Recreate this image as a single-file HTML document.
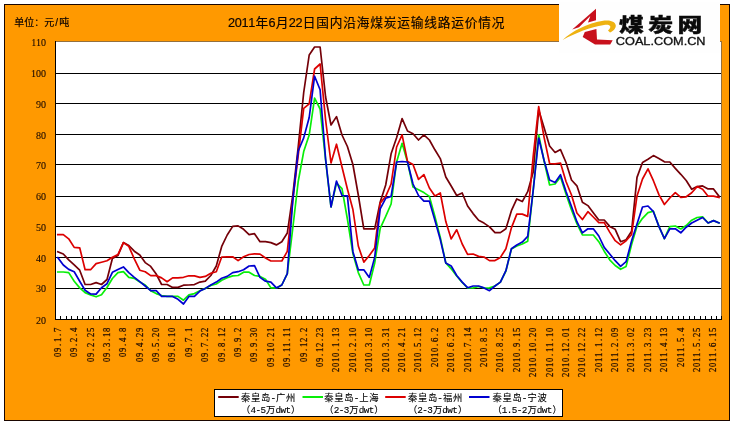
<!DOCTYPE html>
<html lang="zh-CN"><head><meta charset="utf-8"><title>2011年6月22日国内沿海煤炭运输线路运价情况</title>
<style>
html,body{margin:0;padding:0;background:#fff;}
body{width:735px;height:425px;overflow:hidden;position:relative;}
svg{position:absolute;left:0;top:0;display:block;}
text{font-family:"Liberation Sans","Noto Sans CJK SC",sans-serif;fill:#1a0a00;}
.cj{font-family:"Liberation Sans","Noto Sans CJK SC",sans-serif;fill:#0c0400;stroke:#0c0400;stroke-width:0.18;}
.mono{font-family:"Liberation Mono","Noto Sans CJK SC",monospace;}
.lg{fill:#000;stroke:#000;stroke-width:0.12;}
.ser3{font-family:"Liberation Serif","Noto Serif CJK SC",serif;stroke:#1a0a00;stroke-width:0.1;}
.ser2{font-family:"Liberation Serif","Noto Serif CJK SC",serif;fill:#1c0a00;stroke:#1c0a00;stroke-width:0.25;}
.ser{fill:none;stroke-width:1.7;stroke-linejoin:round;stroke-linecap:square;}
</style></head><body>
<svg width="735" height="425" viewBox="0 0 735 425">
<rect x="4.5" y="4.5" width="725" height="416" fill="#ff9900" stroke="#1a0600" stroke-width="1"/>
<rect x="55" y="41" width="667" height="279" fill="#ffffff"/>
<path d="M55 41.5H722M721.5 41V320" stroke="#94703e" stroke-width="1" fill="none"/>
<path d="M56 73.5H721M56 103.5H721M56 134.5H721M56 164.5H721M56 196.5H721M56 226.5H721M56 257.5H721M56 288.5H721" stroke="#000" stroke-width="1" fill="none" shape-rendering="crispEdges"/>
<polyline class="ser" stroke="#740008" points="57.8,251.8 63.3,254.0 68.7,259.8 74.2,264.9 79.7,270.2 85.1,284.5 90.6,284.5 96.1,282.6 101.5,284.5 107.0,279.5 112.4,258.5 117.9,255.6 123.4,242.6 128.8,245.5 134.3,251.2 139.8,255.0 145.2,262.6 150.7,266.4 156.2,274.0 161.6,284.5 167.1,284.5 172.6,287.4 178.0,287.4 183.5,285.2 188.9,285.0 194.4,284.6 199.9,282.1 205.3,281.2 210.8,275.5 216.3,266.0 221.7,246.4 227.2,235.0 232.7,226.4 238.1,225.9 243.6,229.3 249.1,234.6 254.5,233.7 260.0,241.7 265.5,241.7 270.9,242.6 276.4,244.9 281.8,241.7 287.3,233.0 292.8,195.0 298.2,147.0 303.7,92.5 309.2,55.0 314.6,47.0 320.1,47.0 325.6,97.0 331.0,125.0 336.5,116.6 342.0,135.0 347.4,146.5 352.9,164.5 358.3,195.0 363.8,228.8 369.3,228.8 374.7,228.8 380.2,202.0 385.7,185.0 391.1,153.8 396.6,137.8 402.1,118.6 407.5,131.0 413.0,133.8 418.5,140.0 423.9,134.8 429.4,140.0 434.9,149.8 440.3,158.6 445.8,177.0 451.2,186.0 456.7,195.5 462.2,193.0 467.6,206.0 473.1,213.6 478.6,220.2 484.0,223.1 489.5,226.9 495.0,232.6 500.4,232.6 505.9,228.8 511.4,210.7 516.8,198.9 522.3,201.6 527.7,191.7 533.2,172.0 538.7,110.0 544.1,127.7 549.6,146.0 555.1,152.5 560.5,149.6 566.0,162.5 571.5,180.0 576.9,185.8 582.4,202.2 587.9,205.6 593.3,212.8 598.8,220.0 604.2,220.0 609.7,226.4 615.2,229.3 620.6,241.7 626.1,239.8 631.6,231.2 637.0,177.4 642.5,162.5 648.0,159.2 653.4,155.6 658.9,158.6 664.4,161.8 669.8,162.0 675.3,168.4 680.8,174.3 686.2,180.5 691.7,189.3 697.1,186.6 702.6,185.9 708.1,188.9 713.5,188.9 719.0,196.2"/>
<polyline class="ser" stroke="#08ee08" points="57.8,272.0 63.3,272.0 68.7,272.6 74.2,281.2 79.7,287.9 85.1,292.6 90.6,294.9 96.1,296.8 101.5,294.7 107.0,287.5 112.4,278.5 117.9,272.6 123.4,271.7 128.8,277.4 134.3,278.3 139.8,282.1 145.2,285.0 150.7,290.7 156.2,293.6 161.6,295.5 167.1,296.4 172.6,296.4 178.0,296.4 183.5,300.2 188.9,294.9 194.4,293.6 199.9,290.7 205.3,288.4 210.8,285.4 216.3,284.0 221.7,280.2 227.2,277.8 232.7,275.9 238.1,275.5 243.6,272.2 249.1,272.2 254.5,275.5 260.0,276.4 265.5,279.3 270.9,287.9 276.4,287.9 281.8,285.0 287.3,273.6 292.8,228.0 298.2,181.5 303.7,151.6 309.2,135.0 314.6,98.2 320.1,109.0 325.6,160.0 331.0,207.0 336.5,183.0 342.0,188.6 347.4,219.0 352.9,253.6 358.3,272.6 363.8,285.0 369.3,285.0 374.7,263.0 380.2,228.3 385.7,216.4 391.1,204.0 396.6,162.0 402.1,143.3 407.5,162.0 413.0,187.0 418.5,189.8 423.9,192.6 429.4,196.4 434.9,216.4 440.3,237.4 445.8,263.0 451.2,268.8 456.7,276.0 462.2,282.5 467.6,288.0 473.1,287.9 478.6,286.5 484.0,288.0 489.5,287.9 495.0,286.0 500.4,282.1 505.9,271.0 511.4,249.0 516.8,246.0 522.3,244.0 527.7,241.2 533.2,190.0 538.7,134.8 544.1,161.0 549.6,185.0 555.1,184.0 560.5,177.0 566.0,194.0 571.5,210.0 576.9,223.6 582.4,235.0 587.9,235.0 593.3,235.0 598.8,241.7 604.2,251.2 609.7,259.8 615.2,265.5 620.6,269.3 626.1,266.4 631.6,244.5 637.0,226.3 642.5,218.3 648.0,212.6 653.4,211.2 658.9,226.4 664.4,238.7 669.8,226.6 675.3,226.0 680.8,229.0 686.2,225.5 691.7,220.2 697.1,217.5 702.6,216.8 708.1,223.0 713.5,220.6 719.0,223.0"/>
<polyline class="ser" stroke="#dc0000" points="57.8,234.6 63.3,234.6 68.7,238.8 74.2,247.4 79.7,247.8 85.1,269.7 90.6,269.7 96.1,263.6 101.5,262.2 107.0,260.7 112.4,257.3 117.9,254.6 123.4,242.6 128.8,246.4 134.3,258.8 139.8,270.2 145.2,271.8 150.7,275.6 156.2,275.6 161.6,277.9 167.1,281.7 172.6,277.9 178.0,277.9 183.5,277.3 188.9,275.8 194.4,275.9 199.9,277.4 205.3,276.4 210.8,273.2 216.3,271.7 221.7,257.0 227.2,256.8 232.7,256.8 238.1,260.6 243.6,256.8 249.1,254.5 254.5,253.8 260.0,254.1 265.5,258.0 270.9,261.0 276.4,261.0 281.8,261.0 287.3,251.4 292.8,200.0 298.2,155.3 303.7,108.3 309.2,103.8 314.6,69.0 320.1,64.0 325.6,120.0 331.0,163.0 336.5,144.2 342.0,167.0 347.4,189.0 352.9,209.5 358.3,246.0 363.8,262.1 369.3,255.5 374.7,247.9 380.2,203.1 385.7,196.4 391.1,184.0 396.6,147.0 402.1,134.8 407.5,161.4 413.0,164.5 418.5,179.4 423.9,174.6 429.4,188.0 434.9,195.9 440.3,193.0 445.8,221.6 451.2,238.9 456.7,229.8 462.2,244.0 467.6,254.3 473.1,254.0 478.6,256.4 484.0,257.0 489.5,260.6 495.0,260.6 500.4,257.4 505.9,248.8 511.4,227.9 516.8,214.1 522.3,214.1 527.7,216.4 533.2,156.4 538.7,106.6 544.1,137.3 549.6,163.5 555.1,163.9 560.5,163.0 566.0,181.5 571.5,195.0 576.9,213.0 582.4,219.5 587.9,211.7 593.3,217.0 598.8,222.6 604.2,222.6 609.7,232.1 615.2,240.7 620.6,244.9 626.1,240.7 631.6,234.5 637.0,196.0 642.5,179.0 648.0,168.8 653.4,180.7 658.9,194.6 664.4,204.5 669.8,198.0 675.3,192.6 680.8,197.3 686.2,196.8 691.7,192.7 697.1,186.6 702.6,189.3 708.1,196.2 713.5,196.2 719.0,197.5"/>
<polyline class="ser" stroke="#0000d0" points="57.8,257.6 63.3,265.0 68.7,269.4 74.2,271.7 79.7,281.2 85.1,290.3 90.6,294.0 96.1,294.1 101.5,287.7 107.0,283.7 112.4,272.3 117.9,269.6 123.4,266.9 128.8,272.6 134.3,277.4 139.8,281.6 145.2,286.0 150.7,290.7 156.2,290.7 161.6,296.4 167.1,296.4 172.6,296.4 178.0,299.3 183.5,304.0 188.9,296.4 194.4,296.4 199.9,291.1 205.3,288.4 210.8,285.0 216.3,282.1 221.7,278.3 227.2,276.4 232.7,272.6 238.1,271.7 243.6,269.8 249.1,266.0 254.5,265.6 260.0,277.4 265.5,281.2 270.9,282.1 276.4,287.9 281.8,285.0 287.3,273.6 292.8,200.0 298.2,151.0 303.7,137.9 309.2,117.5 314.6,76.2 320.1,89.8 325.6,159.0 331.0,207.0 336.5,181.0 342.0,195.5 347.4,195.8 352.9,251.7 358.3,269.8 363.8,269.8 369.3,277.4 374.7,257.4 380.2,208.8 385.7,198.3 391.1,196.4 396.6,162.0 402.1,161.5 407.5,162.0 413.0,184.0 418.5,195.5 423.9,201.2 429.4,201.2 434.9,220.2 440.3,239.6 445.8,263.1 451.2,266.0 456.7,275.5 462.2,282.1 467.6,287.7 473.1,286.0 478.6,286.0 484.0,287.9 489.5,290.7 495.0,286.0 500.4,282.1 505.9,270.7 511.4,248.8 516.8,245.0 522.3,242.1 527.7,236.4 533.2,190.5 538.7,138.0 544.1,160.5 549.6,180.0 555.1,182.6 560.5,174.7 566.0,191.5 571.5,206.5 576.9,221.7 582.4,232.9 587.9,228.8 593.3,228.8 598.8,236.0 604.2,247.4 609.7,254.0 615.2,260.7 620.6,266.4 626.1,261.7 631.6,240.7 637.0,224.0 642.5,207.0 648.0,206.0 653.4,211.7 658.9,226.4 664.4,238.7 669.8,228.8 675.3,228.8 680.8,232.8 686.2,227.2 691.7,223.0 697.1,220.2 702.6,217.5 708.1,223.0 713.5,220.6 719.0,223.0"/>
<path d="M55.5 41V320M55 319.5H722" stroke="#000" stroke-width="1" fill="none" shape-rendering="crispEdges"/>
<path d="M60.5 316V319M66.5 316V319M71.5 316V319M77.5 316V319M82.5 316V319M88.5 316V319M93.5 316V319M99.5 316V319M104.5 316V319M109.5 316V319M115.5 316V319M120.5 316V319M126.5 316V319M131.5 316V319M137.5 316V319M142.5 316V319M148.5 316V319M153.5 316V319M159.5 316V319M164.5 316V319M170.5 316V319M175.5 316V319M180.5 316V319M186.5 316V319M191.5 316V319M197.5 316V319M202.5 316V319M208.5 316V319M213.5 316V319M219.5 316V319M224.5 316V319M230.5 316V319M235.5 316V319M241.5 316V319M246.5 316V319M252.5 316V319M257.5 316V319M262.5 316V319M268.5 316V319M273.5 316V319M279.5 316V319M284.5 316V319M290.5 316V319M295.5 316V319M301.5 316V319M306.5 316V319M312.5 316V319M317.5 316V319M323.5 316V319M328.5 316V319M333.5 316V319M339.5 316V319M344.5 316V319M350.5 316V319M355.5 316V319M361.5 316V319M366.5 316V319M372.5 316V319M377.5 316V319M383.5 316V319M388.5 316V319M394.5 316V319M399.5 316V319M405.5 316V319M410.5 316V319M415.5 316V319M421.5 316V319M426.5 316V319M432.5 316V319M437.5 316V319M443.5 316V319M448.5 316V319M454.5 316V319M459.5 316V319M465.5 316V319M470.5 316V319M476.5 316V319M481.5 316V319M486.5 316V319M492.5 316V319M497.5 316V319M503.5 316V319M508.5 316V319M514.5 316V319M519.5 316V319M525.5 316V319M530.5 316V319M536.5 316V319M541.5 316V319M547.5 316V319M552.5 316V319M558.5 316V319M563.5 316V319M568.5 316V319M574.5 316V319M579.5 316V319M585.5 316V319M590.5 316V319M596.5 316V319M601.5 316V319M607.5 316V319M612.5 316V319M618.5 316V319M623.5 316V319M629.5 316V319M634.5 316V319M640.5 316V319M645.5 316V319M650.5 316V319M656.5 316V319M661.5 316V319M667.5 316V319M672.5 316V319M678.5 316V319M683.5 316V319M689.5 316V319M694.5 316V319M700.5 316V319M705.5 316V319M711.5 316V319M716.5 316V319M721.5 316V319" stroke="#000" stroke-width="1" fill="none" shape-rendering="crispEdges"/>
<text class="ser3" x="46.0" y="46.0" font-size="10.0" text-anchor="end">110</text>
<text class="ser3" x="46.0" y="77.0" font-size="10.0" text-anchor="end">100</text>
<text class="ser3" x="46.0" y="107.8" font-size="10.0" text-anchor="end">90</text>
<text class="ser3" x="46.0" y="138.8" font-size="10.0" text-anchor="end">80</text>
<text class="ser3" x="46.0" y="168.8" font-size="10.0" text-anchor="end">70</text>
<text class="ser3" x="46.0" y="200.1" font-size="10.0" text-anchor="end">60</text>
<text class="ser3" x="46.0" y="231.0" font-size="10.0" text-anchor="end">50</text>
<text class="ser3" x="46.0" y="262.0" font-size="10.0" text-anchor="end">40</text>
<text class="ser3" x="46.0" y="292.0" font-size="10.0" text-anchor="end">30</text>
<text class="ser3" x="46.0" y="323.9" font-size="10.0" text-anchor="end">20</text>
<text class="ser2" transform="translate(60.72 327.4) rotate(-90) scale(0.86 1)" x="-34.48 -28.66 -21.60 -17.03 -9.97 -5.41" font-size="10.0">09.1.7</text>
<text class="ser2" transform="translate(77.11 327.4) rotate(-90) scale(0.86 1)" x="-34.48 -28.66 -21.60 -17.03 -9.97 -5.41" font-size="10.0">09.2.4</text>
<text class="ser2" transform="translate(93.51 327.4) rotate(-90) scale(0.86 1)" x="-40.29 -34.48 -27.41 -22.85 -15.78 -11.22 -5.41" font-size="10.0">09.2.25</text>
<text class="ser2" transform="translate(109.90 327.4) rotate(-90) scale(0.86 1)" x="-40.29 -34.48 -27.41 -22.85 -15.78 -11.22 -5.41" font-size="10.0">09.3.18</text>
<text class="ser2" transform="translate(126.29 327.4) rotate(-90) scale(0.86 1)" x="-34.48 -28.66 -21.60 -17.03 -9.97 -5.41" font-size="10.0">09.4.8</text>
<text class="ser2" transform="translate(142.69 327.4) rotate(-90) scale(0.86 1)" x="-40.29 -34.48 -27.41 -22.85 -15.78 -11.22 -5.41" font-size="10.0">09.4.29</text>
<text class="ser2" transform="translate(159.08 327.4) rotate(-90) scale(0.86 1)" x="-40.29 -34.48 -27.41 -22.85 -15.78 -11.22 -5.41" font-size="10.0">09.5.20</text>
<text class="ser2" transform="translate(175.47 327.4) rotate(-90) scale(0.86 1)" x="-40.29 -34.48 -27.41 -22.85 -15.78 -11.22 -5.41" font-size="10.0">09.6.10</text>
<text class="ser2" transform="translate(191.87 327.4) rotate(-90) scale(0.86 1)" x="-34.48 -28.66 -21.60 -17.03 -9.97 -5.41" font-size="10.0">09.7.1</text>
<text class="ser2" transform="translate(208.26 327.4) rotate(-90) scale(0.86 1)" x="-40.29 -34.48 -27.41 -22.85 -15.78 -11.22 -5.41" font-size="10.0">09.7.22</text>
<text class="ser2" transform="translate(224.66 327.4) rotate(-90) scale(0.86 1)" x="-40.29 -34.48 -27.41 -22.85 -15.78 -11.22 -5.41" font-size="10.0">09.8.12</text>
<text class="ser2" transform="translate(241.05 327.4) rotate(-90) scale(0.86 1)" x="-34.48 -28.66 -21.60 -17.03 -9.97 -5.41" font-size="10.0">09.9.2</text>
<text class="ser2" transform="translate(257.44 327.4) rotate(-90) scale(0.86 1)" x="-40.29 -34.48 -27.41 -22.85 -15.78 -11.22 -5.41" font-size="10.0">09.9.30</text>
<text class="ser2" transform="translate(273.84 327.4) rotate(-90) scale(0.86 1)" x="-46.10 -40.29 -33.23 -28.66 -22.85 -15.78 -11.22 -5.41" font-size="10.0">09.10.21</text>
<text class="ser2" transform="translate(290.23 327.4) rotate(-90) scale(0.86 1)" x="-46.10 -40.29 -33.23 -28.66 -22.85 -15.78 -11.22 -5.41" font-size="10.0">09.11.11</text>
<text class="ser2" transform="translate(306.62 327.4) rotate(-90) scale(0.86 1)" x="-40.29 -34.48 -27.41 -22.85 -17.03 -9.97 -5.41" font-size="10.0">09.12.2</text>
<text class="ser2" transform="translate(323.02 327.4) rotate(-90) scale(0.86 1)" x="-46.10 -40.29 -33.23 -28.66 -22.85 -15.78 -11.22 -5.41" font-size="10.0">09.12.23</text>
<text class="ser2" transform="translate(339.41 327.4) rotate(-90) scale(0.86 1)" x="-51.92 -46.10 -40.29 -34.48 -27.41 -22.85 -15.78 -11.22 -5.41" font-size="10.0">2010.1.13</text>
<text class="ser2" transform="translate(355.80 327.4) rotate(-90) scale(0.86 1)" x="-51.92 -46.10 -40.29 -34.48 -27.41 -22.85 -15.78 -11.22 -5.41" font-size="10.0">2010.2.10</text>
<text class="ser2" transform="translate(372.20 327.4) rotate(-90) scale(0.86 1)" x="-51.92 -46.10 -40.29 -34.48 -27.41 -22.85 -15.78 -11.22 -5.41" font-size="10.0">2010.3.10</text>
<text class="ser2" transform="translate(388.59 327.4) rotate(-90) scale(0.86 1)" x="-51.92 -46.10 -40.29 -34.48 -27.41 -22.85 -15.78 -11.22 -5.41" font-size="10.0">2010.3.31</text>
<text class="ser2" transform="translate(404.98 327.4) rotate(-90) scale(0.86 1)" x="-51.92 -46.10 -40.29 -34.48 -27.41 -22.85 -15.78 -11.22 -5.41" font-size="10.0">2010.4.21</text>
<text class="ser2" transform="translate(421.38 327.4) rotate(-90) scale(0.86 1)" x="-51.92 -46.10 -40.29 -34.48 -27.41 -22.85 -15.78 -11.22 -5.41" font-size="10.0">2010.5.12</text>
<text class="ser2" transform="translate(437.77 327.4) rotate(-90) scale(0.86 1)" x="-46.10 -40.29 -34.48 -28.66 -21.60 -17.03 -9.97 -5.41" font-size="10.0">2010.6.2</text>
<text class="ser2" transform="translate(454.16 327.4) rotate(-90) scale(0.86 1)" x="-51.92 -46.10 -40.29 -34.48 -27.41 -22.85 -15.78 -11.22 -5.41" font-size="10.0">2010.6.23</text>
<text class="ser2" transform="translate(470.56 327.4) rotate(-90) scale(0.86 1)" x="-51.92 -46.10 -40.29 -34.48 -27.41 -22.85 -15.78 -11.22 -5.41" font-size="10.0">2010.7.14</text>
<text class="ser2" transform="translate(486.95 327.4) rotate(-90) scale(0.86 1)" x="-46.10 -40.29 -34.48 -28.66 -21.60 -17.03 -9.97 -5.41" font-size="10.0">2010.8.5</text>
<text class="ser2" transform="translate(503.34 327.4) rotate(-90) scale(0.86 1)" x="-51.92 -46.10 -40.29 -34.48 -27.41 -22.85 -15.78 -11.22 -5.41" font-size="10.0">2010.8.25</text>
<text class="ser2" transform="translate(519.74 327.4) rotate(-90) scale(0.86 1)" x="-51.92 -46.10 -40.29 -34.48 -27.41 -22.85 -15.78 -11.22 -5.41" font-size="10.0">2010.9.15</text>
<text class="ser2" transform="translate(536.13 327.4) rotate(-90) scale(0.86 1)" x="-57.73 -51.92 -46.10 -40.29 -33.23 -28.66 -22.85 -15.78 -11.22 -5.41" font-size="10.0">2010.10.20</text>
<text class="ser2" transform="translate(552.52 327.4) rotate(-90) scale(0.86 1)" x="-57.73 -51.92 -46.10 -40.29 -33.23 -28.66 -22.85 -15.78 -11.22 -5.41" font-size="10.0">2010.11.10</text>
<text class="ser2" transform="translate(568.92 327.4) rotate(-90) scale(0.86 1)" x="-57.73 -51.92 -46.10 -40.29 -33.23 -28.66 -22.85 -15.78 -11.22 -5.41" font-size="10.0">2010.12.01</text>
<text class="ser2" transform="translate(585.31 327.4) rotate(-90) scale(0.86 1)" x="-57.73 -51.92 -46.10 -40.29 -33.23 -28.66 -22.85 -15.78 -11.22 -5.41" font-size="10.0">2010.12.22</text>
<text class="ser2" transform="translate(601.71 327.4) rotate(-90) scale(0.86 1)" x="-51.92 -46.10 -40.29 -34.48 -27.41 -22.85 -15.78 -11.22 -5.41" font-size="10.0">2011.1.12</text>
<text class="ser2" transform="translate(618.10 327.4) rotate(-90) scale(0.86 1)" x="-51.92 -46.10 -40.29 -34.48 -27.41 -22.85 -15.78 -11.22 -5.41" font-size="10.0">2011.2.09</text>
<text class="ser2" transform="translate(634.49 327.4) rotate(-90) scale(0.86 1)" x="-51.92 -46.10 -40.29 -34.48 -27.41 -22.85 -15.78 -11.22 -5.41" font-size="10.0">2011.3.02</text>
<text class="ser2" transform="translate(650.89 327.4) rotate(-90) scale(0.86 1)" x="-51.92 -46.10 -40.29 -34.48 -27.41 -22.85 -15.78 -11.22 -5.41" font-size="10.0">2011.3.23</text>
<text class="ser2" transform="translate(667.28 327.4) rotate(-90) scale(0.86 1)" x="-51.92 -46.10 -40.29 -34.48 -27.41 -22.85 -15.78 -11.22 -5.41" font-size="10.0">2011.4.13</text>
<text class="ser2" transform="translate(683.67 327.4) rotate(-90) scale(0.86 1)" x="-46.10 -40.29 -34.48 -28.66 -21.60 -17.03 -9.97 -5.41" font-size="10.0">2011.5.4</text>
<text class="ser2" transform="translate(700.07 327.4) rotate(-90) scale(0.86 1)" x="-51.92 -46.10 -40.29 -34.48 -27.41 -22.85 -15.78 -11.22 -5.41" font-size="10.0">2011.5.25</text>
<text class="ser2" transform="translate(716.46 327.4) rotate(-90) scale(0.86 1)" x="-51.92 -46.10 -40.29 -34.48 -27.41 -22.85 -15.78 -11.22 -5.41" font-size="10.0">2011.6.15</text>
<text class="cj" x="227.94 234.69 241.44 248.19 255.50 268.44 275.75 288.69 295.44 302.75 316.25 329.75 343.25 356.75 370.25 383.75 397.25 410.75 424.25 437.75 451.25 464.75 478.25 491.75" y="26.9" font-size="12.7">2011年6月22日国内沿海煤炭运输线路运价情况</text>
<text class="cj" x="14.20 24.20 34.20 44.20 55.31 59.20" y="26.4" font-size="10.0">单位：元/吨</text>
<rect x="214.5" y="389.5" width="348" height="27" fill="#fff" stroke="#000" stroke-width="1"/>
<path d="M218.2 397H238.7" stroke="#740008" stroke-width="2" fill="none"/>
<text class="mono lg" x="241.05 251.05 261.05 270.41 276.05 286.05" y="401.3" font-size="9.3">秦皇岛-广州</text>
<text class="mono lg" x="241.05 250.41 255.41 260.41 266.05 275.41 280.41 285.41 291.05" y="413.0" font-size="9.3">（4-5万dwt）</text>
<path d="M302.5 397H323.0" stroke="#08ee08" stroke-width="2" fill="none"/>
<text class="mono lg" x="324.35 334.35 344.35 353.71 359.35 369.35" y="401.3" font-size="9.3">秦皇岛-上海</text>
<text class="mono lg" x="324.35 333.71 338.71 343.71 349.35 358.71 363.71 368.71 374.35" y="413.0" font-size="9.3">（2-3万dwt）</text>
<path d="M385.2 397H405.7" stroke="#dc0000" stroke-width="2" fill="none"/>
<text class="mono lg" x="407.95 417.95 427.95 437.31 442.95 452.95" y="401.3" font-size="9.3">秦皇岛-福州</text>
<text class="mono lg" x="407.95 417.31 422.31 427.31 432.95 442.31 447.31 452.31 457.95" y="413.0" font-size="9.3">（2-3万dwt）</text>
<path d="M469.0 397H489.5" stroke="#0000d0" stroke-width="2" fill="none"/>
<text class="mono lg" x="492.45 502.45 512.45 521.81 527.45 537.45" y="401.3" font-size="9.3">秦皇岛-宁波</text>
<text class="mono lg" x="492.45 501.81 506.81 511.81 516.81 521.81 527.45 536.81 541.81 546.81 552.45" y="413.0" font-size="9.3">（1.5-2万dwt）</text>
<rect x="559" y="2" width="161" height="51" fill="#fefefe"/>
<path d="M596 8.7L596 20.2L588 22.6L590.3 16L579 27.2L572.2 29.6Z" fill="#c8101c"/>
<path d="M584.8 32L596.4 29L597 39.6L612.7 40.2L610.2 44.6L595 44.6L582.7 37Z" fill="#c8101c"/>
<path d="M562.6 40C572 31.6 586 23.6 604.5 20.6C611.5 19.8 615.8 22.3 615.8 25.8C615.8 28.7 613.2 31.2 610 32.5L608 30.6C610 29 610.8 27.2 610.1 26.1C609 24.7 606.5 24.6 604 25.1C590 27.2 576 33 562.6 40Z" fill="#eeb211"/>
<text x="0 22.4 44.8" y="0" transform="translate(618.9 32.4) scale(1.31 1)" font-size="19" font-weight="900" style="font-family:'Liberation Sans','Noto Sans CJK SC',sans-serif;fill:#0a0a0a;stroke:#0a0a0a;stroke-width:0.35">煤炭网</text>
<text x="0" y="0" transform="translate(615.8 44.5) scale(1.225 1)" font-size="10.4" style="fill:#111;stroke:#111;stroke-width:0.3">COAL.COM.CN</text>
</svg>
</body></html>
